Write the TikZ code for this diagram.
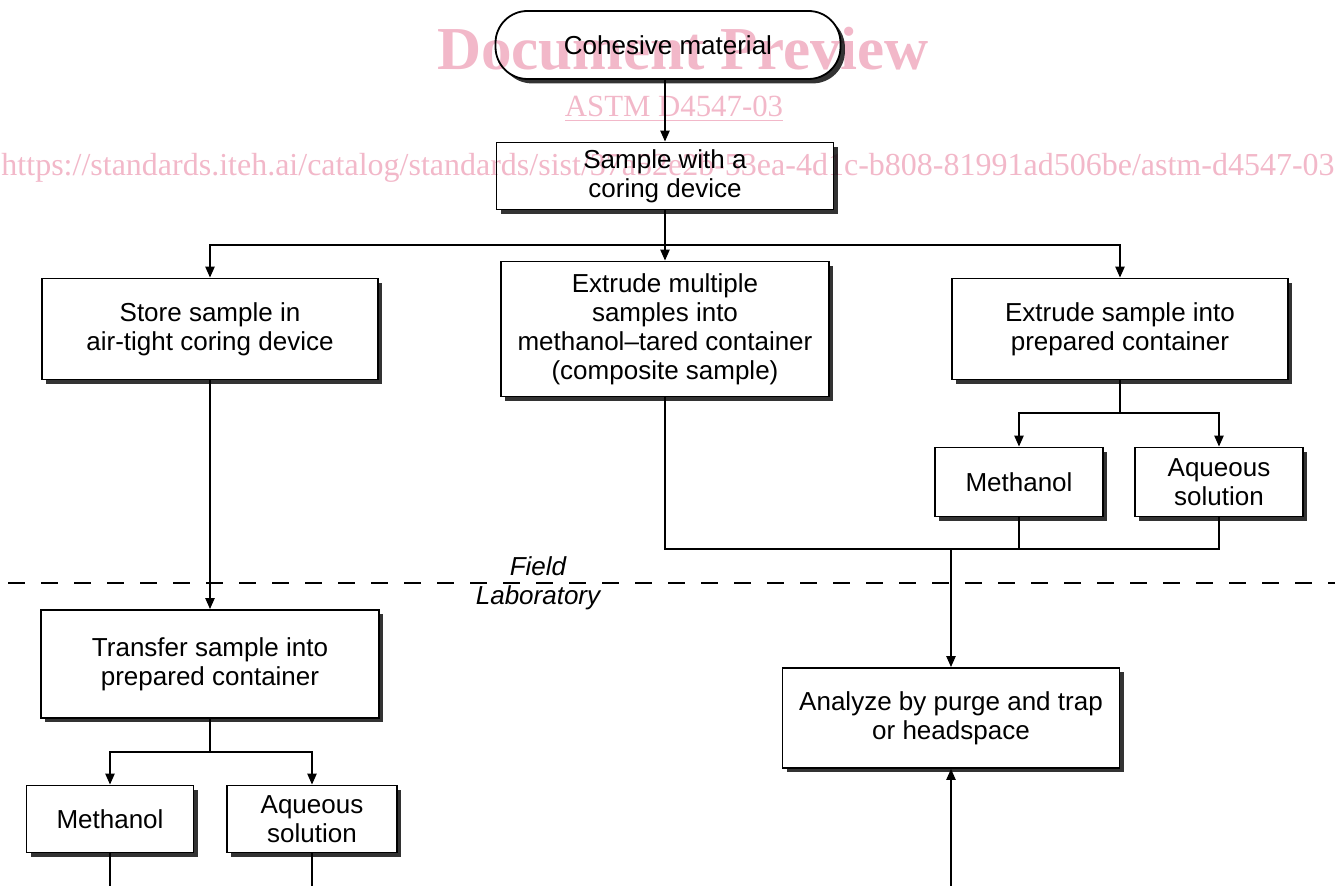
\documentclass[tikz,border=0pt]{standalone}
\usepackage{fontspec}
\setmainfont{Liberation Sans}
\newfontfamily\wmfont{Liberation Serif}
\usetikzlibrary{arrows.meta,shadows}

\definecolor{wmpink}{RGB}{242,184,201}

\tikzset{
  stepbox/.style={draw, line width=0.9pt, fill=white, align=center, inner sep=2pt,
    font=\fontsize{13}{14.5}\selectfont,
    drop shadow={shadow xshift=2.2pt, shadow yshift=-2.2pt, opacity=1, fill=black!80}},
  startbox/.style={stepbox, rounded corners=16pt},
  link/.style={line width=0.9pt},
  arr/.style={link, -{Triangle[length=5.5pt,width=4.6pt]}},
  sepline/.style={line width=0.8pt, dash pattern=on 8.5pt off 8pt},
  wm/.style={text=wmpink, inner sep=0pt, anchor=base},
}

\begin{document}
\begin{tikzpicture}[x=0.5pt,y=-0.5pt]
  \useasboundingbox (0,0) rectangle (1335,886);

  % steps in the field
  \node[startbox, minimum width=172.5pt, minimum height=34pt] (cohesive) at (668,45) {Cohesive material};
  \node[stepbox, minimum width=168.5pt, minimum height=33.5pt] (coring) at (665,176) {Sample with a\\coring device};
  \node[stepbox, minimum width=168pt, minimum height=50.5pt] (store) at (210,329) {Store sample in\\air-tight coring device};
  \node[stepbox, minimum width=164pt, minimum height=67.5pt] (multiple) at (665,329) {Extrude multiple\\samples into\\methanol--tared container\\(composite sample)};
  \node[stepbox, minimum width=168pt, minimum height=50.5pt] (prepared) at (1120,329) {Extrude sample into\\prepared container};
  \node[stepbox, minimum width=84pt, minimum height=34.5pt] (methR) at (1019,482) {Methanol};
  \node[stepbox, minimum width=84pt, minimum height=34.5pt] (aqR) at (1219,482) {Aqueous\\solution};

  % steps in the laboratory
  \node[stepbox, minimum width=169pt, minimum height=54pt] (transfer) at (210,664) {Transfer sample into\\prepared container};
  \node[stepbox, minimum width=83.5pt, minimum height=33.5pt] (methL) at (110,819) {Methanol};
  \node[stepbox, minimum width=85pt, minimum height=33.5pt] (aqL) at (312,819) {Aqueous\\solution};
  \node[stepbox, minimum width=168.5pt, minimum height=50pt] (analyze) at (951,718) {Analyze by purge and trap\\or headspace};

  % field / laboratory border
  \draw[sepline] (8,583) -- (1335,583);
  \node[font=\itshape\fontsize{13}{14.5}\selectfont] (field) at (538,566) {Field};
  \node[font=\itshape\fontsize{13}{14.5}\selectfont] (lab) at (538,598) {Laboratory};

  % branch points
  \coordinate (fork) at (665,245);
  \coordinate (forkR) at (1120,413);
  \coordinate (forkL) at (210,752);
  \coordinate (merge) at (951,549);
  \coordinate (endA) at (951,886);
  \coordinate (endML) at (110,886);
  \coordinate (endAL) at (312,886);

  \draw[arr] (cohesive.south -| coring) -- (coring);
  \draw[arr] (coring) -- (multiple);
  \draw[arr] (fork) -| (store);
  \draw[arr] (fork) -| (prepared);
  \draw[arr] (store) -- (transfer);
  \draw[link] (prepared) -- (forkR);
  \draw[arr] (forkR) -| (methR);
  \draw[arr] (forkR) -| (aqR);
  \draw[link] (multiple) |- (aqR.south |- merge) -- (aqR);
  \draw[link] (methR) -- (methR.south |- merge);
  \draw[arr] (merge) -- (analyze);
  \draw[arr] (endA) -- (analyze);
  \draw[link] (transfer) -- (forkL);
  \draw[arr] (forkL) -| (methL);
  \draw[arr] (forkL) -| (aqL);
  \draw[link] (methL) -- (endML);
  \draw[link] (aqL) -- (endAL);

  % preview stamp
  \begin{scope}[blend mode=multiply]
    \node[wm, font=\wmfont\bfseries\fontsize{30.5}{32}\selectfont] (wmsite) at (683,-12) {(https://standards.iteh.ai)};
    \node[wm, font=\wmfont\bfseries\fontsize{30.5}{32}\selectfont] (wmtitle) at (683,70) {Document Preview};
    \node[wm, font=\wmfont\fontsize{15.4}{17}\selectfont] (wmcode) at (674,117) {\underline{ASTM D4547-03}};
    \node[wm, font=\wmfont\fontsize{16}{18}\selectfont] (wmurl) at (668,176) {https://standards.iteh.ai/catalog/standards/sist/37a52e2b-53ea-4d1c-b808-81991ad506be/astm-d4547-03};
  \end{scope}
\end{tikzpicture}
\end{document}
